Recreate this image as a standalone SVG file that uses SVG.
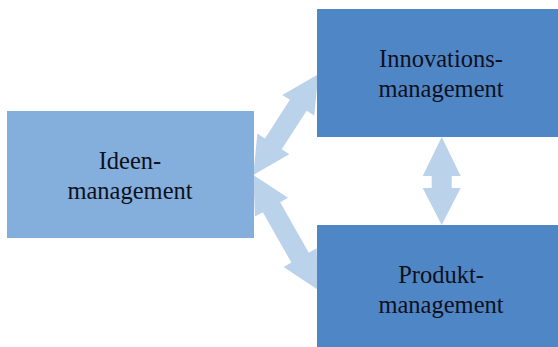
<svg xmlns="http://www.w3.org/2000/svg" width="558" height="347" viewBox="0 0 558 347">
<style>
.arrow{fill:#BBD2EB}
.light{fill:#84AEDB}
.dark{fill:#4F86C6}
.lbl{font-family:"Liberation Serif","Times New Roman",serif;font-size:24.5px;fill:#10101c;text-anchor:middle}
</style>
<rect width="558" height="347" fill="#ffffff"/>
<g id="connectors">
<polygon class="arrow" transform="translate(253.3,175) rotate(-57.2)" points="0,0 37,-19 37,-10 83,-10 83,-19 120,0 83,19 83,10 37,10 37,19"/>
<polygon class="arrow" transform="translate(253.3,175) rotate(60.5)" points="0,0 37,-19 37,-10 95,-10 95,-19 132,0 95,19 95,10 37,10 37,19"/>
<polygon class="arrow" points="441.7,137 460.7,176 451.7,176 451.7,188 460.7,188 441.7,225 422.7,188 431.7,188 431.7,176 422.7,176"/>
</g>
<g id="ideen">
<rect class="light" x="7" y="111" width="247" height="127"/>
<text class="lbl" x="130" y="169">Ideen-</text>
<text class="lbl" x="130" y="199">management</text>
</g>
<g id="innovations">
<rect class="dark" x="317" y="9" width="241" height="128"/>
<text class="lbl" x="441" y="67">Innovations-</text>
<text class="lbl" x="441" y="97">management</text>
</g>
<g id="produkt">
<rect class="dark" x="317" y="225" width="241" height="122"/>
<text class="lbl" x="441" y="283">Produkt-</text>
<text class="lbl" x="441" y="313">management</text>
</g>
</svg>
